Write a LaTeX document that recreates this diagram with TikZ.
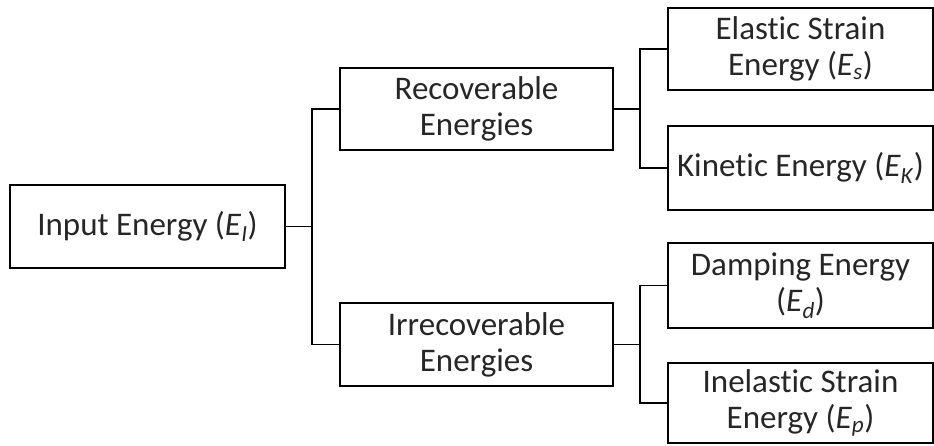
\documentclass[tikz,border=0pt]{standalone}
\usepackage{fontspec}
\setmainfont{Carlito}[Ligatures=NoCommon]
\definecolor{txt}{HTML}{262626}
\newcommand{\Esub}[1]{\textit{E}\textsubscript{\textit{#1}}}
\begin{document}
\begin{tikzpicture}[x=1pt,y=-1pt,
  box/.style={draw=black, line width=1.5pt, minimum width=#1, inner sep=0pt, align=center,
    font=\fontsize{33}{36}\selectfont, text=txt},
  conn/.style={draw=black, line width=1.5pt}]
\useasboundingbox (0,0) rectangle (934,446);
\node[box=275pt, minimum height=83pt] (in) at (147.5,226.5) {Input Energy (\Esub{I})};
\node[box=273pt, minimum height=82pt] (rec) at (476.5,109) {Recoverable\\Energies};
\node[box=273pt, minimum height=83pt] (irr) at (476.5,344.5) {Irrecoverable\\Energies};
\node[box=265pt, minimum height=82pt] (es) at (800.5,49) {Elastic Strain\\Energy (\Esub{s})};
\node[box=265pt, minimum height=84pt] (ek) at (800.5,168) {Kinetic Energy (\Esub{K})};
\node[box=265pt, minimum height=85pt] (ed) at (800.5,285.5) {Damping Energy\\(\Esub{d})};
\node[box=265pt, minimum height=80pt] (ep) at (800.5,403) {Inelastic Strain\\Energy (\Esub{p})};
\coordinate (b1) at (312,226.5);
\coordinate (b2) at (640,109);
\coordinate (b3) at (640,344.5);
\draw[conn] (in.east) -- (b1);
\draw[conn] (rec.west) -| (b1);
\draw[conn] (irr.west) -| (b1);
\draw[conn] (rec.east) -- (b2);
\draw[conn] (es.west) -| (b2);
\draw[conn] (ek.west) -| (b2);
\draw[conn] (irr.east) -- (b3);
\draw[conn] (ed.west) -| (b3);
\draw[conn] (ep.west) -| (b3);
\end{tikzpicture}
\end{document}
